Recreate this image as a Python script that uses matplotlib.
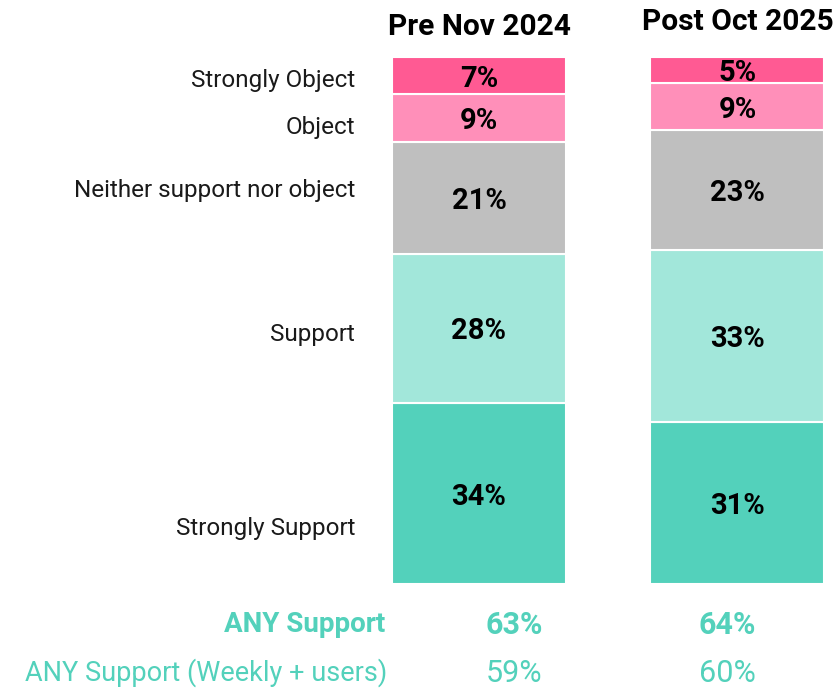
import numpy as np
import matplotlib.pyplot as plt

plt.rcParams['font.family'] = ['Roboto', 'DejaVu Sans']

# Data
periods = ["Pre Nov 2024", "Post Oct 2025"]
categories = ["Strongly Support", "Support", "Neither support nor object", "Object", "Strongly Object"]
pre_values = [34, 28, 21, 9, 7]
post_values = [31, 33, 23, 9, 5]
colors = ["#53d1bb", "#a2e7da", "#bfbfbf", "#ff8fb9", "#ff5a93"]

summary_labels = ["ANY Support", "ANY Support (Weekly + users)"]
any_support = [63, 64]
any_support_weekly = [59, 60]
teal = "#53d1bb"

# Label heights for category names (in % of bar)
label_y = [10.6, 47.4, 74.6, 86.7, 95.6]

fig = plt.figure(figsize=(8.39, 6.9), dpi=100)
ax = fig.add_axes([380 / 839, 106 / 690, 459 / 839, 527 / 690])

data = np.array([pre_values, post_values], dtype=float)
shares = data / data.sum(axis=1, keepdims=True) * 100
x = np.arange(len(periods))
width = 0.673

bottom = np.zeros(len(periods))
for j, cat in enumerate(categories):
    ax.bar(x, shares[:, j], width, bottom=bottom, color=colors[j],
           edgecolor="white", linewidth=1.5)
    for i in range(len(periods)):
        ax.text(x[i], bottom[i] + shares[i, j] / 2, f"{int(data[i, j])}%",
                ha="center", va="center_baseline", fontsize=21, fontweight="bold", color="black")
    bottom += shares[:, j]

ax.set_xlim(-0.383, 1.393)
ax.set_ylim(0, 100)
ax.axis("off")

# Column titles
for i, p in enumerate(periods):
    ax.text(x[i], 103.1 if i == 0 else 104.0, p, ha="center", va="bottom",
            fontsize=21.5, fontweight="bold", color="black")

# Category labels on the left
for cat, yy in zip(categories, label_y):
    fig.text(355 / 839, (690 - (584 - yy * 5.27)) / 690, cat, ha="right", va="center",
             fontsize=17.5, color="#1a1a1a")

# Summary rows
fig.text(385 / 839, (690 - 625) / 690, summary_labels[0], ha="right", va="center",
         fontsize=20, fontweight="bold", color=teal)
fig.text(387 / 839, (690 - 673) / 690, summary_labels[1], ha="right", va="center",
         fontsize=19.5, color=teal)
value_x = [514, 727]
for i in range(len(periods)):
    fig.text(value_x[i] / 839, (690 - 625) / 690, f"{any_support[i]}%", ha="center",
             va="center", fontsize=22, fontweight="bold", color=teal)
    fig.text(value_x[i] / 839, (690 - 673) / 690, f"{any_support_weekly[i]}%", ha="center",
             va="center", fontsize=22, color=teal)

fig.savefig("out.png", dpi=100)
